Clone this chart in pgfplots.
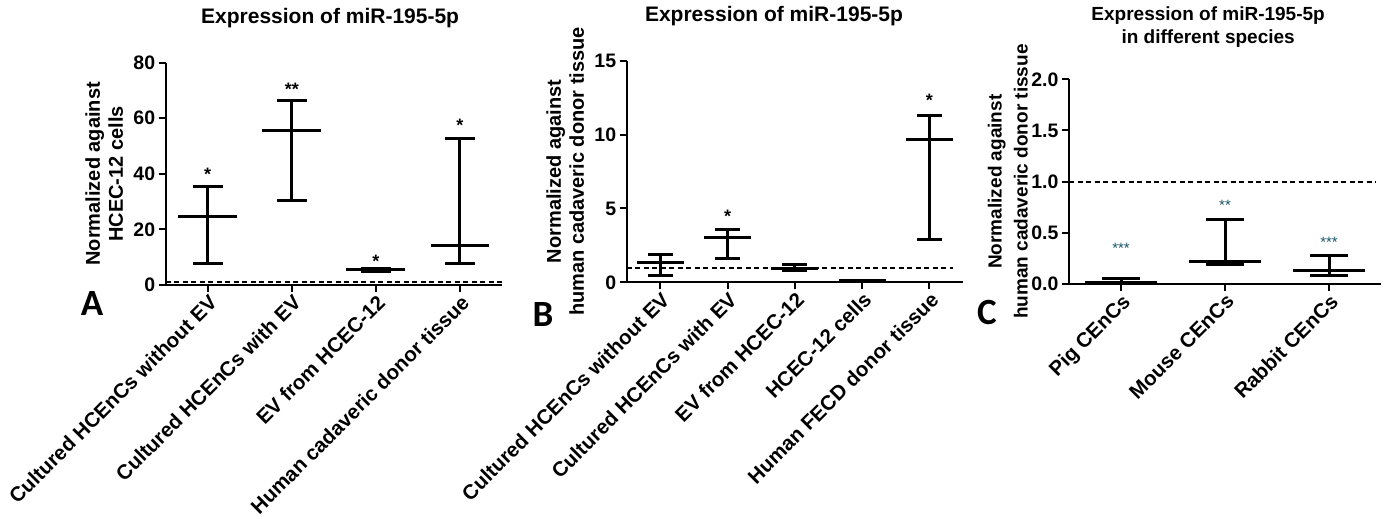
\documentclass[border=0pt]{standalone}
\usepackage{fontspec}
\setmainfont{Liberation Sans}
\newfontfamily\calibri{Carlito}
\usepackage{pgfplots}
\usepackage{pgfplotstable}
\pgfplotsset{compat=1.18}
\definecolor{starteal}{HTML}{1A5566}

% median, highest and lowest value of each group
\pgfplotstableread{
x med hi lo
0 24.6 35.4 7.9
1 55.6 66.5 30.5
2 5.4 6.0 4.8
3 14.1 52.8 7.7
}\dataA
\pgfplotstableread{
x med hi lo
0 1.35 1.90 0.47
1 3.00 3.59 1.62
2 0.95 1.22 0.79
3 0.09 0.11 0.06
4 9.68 11.32 2.91
}\dataB
\pgfplotstableread{
x med hi lo
0 0.015 0.055 0.007
1 0.218 0.635 0.190
2 0.130 0.274 0.083
}\dataC

\pgfplotsset{
  prism/.style={
    scale only axis, clip=false,
    axis x line*=bottom, axis y line*=left,
    axis line style={-, line width=2pt},
    tick align=outside, major tick length=7pt,
    every tick/.style={black, line width=2pt},
    tick label style={font=\fontsize{19.5}{22}\selectfont\bfseries},
    /pgf/number format/assume math mode=true,
    xticklabel style={rotate=45, anchor=north east, inner sep=1pt, font=\fontsize{20.5}{22}\selectfont\bfseries},
    ylabel style={anchor=center, align=center, font=\fontsize{20}{23}\selectfont\bfseries},
    title style={anchor=center, align=center, font=\fontsize{21}{24}\selectfont\bfseries},
  },
  ebar/.style 2 args={black, only marks, mark=-, mark size=#1,
    mark options={solid, line width=3pt},
    error bars/.cd, y dir=both, y explicit,
    error bar style={line width=3pt},
    error mark=|, error mark options={line width=3pt, mark size=#2}},
  stars/.style={draw=none, mark=none, nodes near coords, point meta=explicit symbolic,
    every node near coord/.style={anchor=center, yshift=-3pt, font=\fontsize{18}{18}\selectfont\bfseries}},
  ref/.style={black, line width=2pt, dash pattern=on 5pt off 3.5pt, no marks},
}

\begin{document}
\begin{tikzpicture}
\useasboundingbox (0pt,0pt) rectangle (1386pt,519pt);

% ---- A
\begin{axis}[prism, at={(165.7pt,234pt)}, anchor=south west,
  width=336.3pt, height=222.3pt,
  xmin=-0.5, xmax=3.5, ymin=0, ymax=80, ytick={0,20,...,80}, xtick={0,1,2,3},
  xticklabels={Cultured HCEnCs without EV, Cultured HCEnCs with EV, EV from HCEC-12, Human cadaveric donor tissue},
  title={Expression of miR-195-5p}, title style={at={(axis description cs:0.489,1)}, yshift=38.7pt},
  ylabel={Normalized against\\HCEC-12 cells}, ylabel style={at={(axis description cs:-0.183,0.5)}},
]
\addplot[ref] coordinates {(-0.5,1) (3.5,1)};
\addplot[ebar={29.4pt}{15pt}] table[x=x, y=med, y error plus expr=\thisrow{hi}-\thisrow{med}, y error minus expr=\thisrow{med}-\thisrow{lo}] {\dataA};
\addplot[stars] coordinates {(0,40.8)[*] (1,71.6)[**] (2,9.6)[*] (3,58.5)[*]};
\end{axis}

% ---- B
\begin{axis}[prism, at={(626.7pt,236.7pt)}, anchor=south west,
  width=336.3pt, height=221.6pt,
  xmin=-0.5, xmax=4.5, ymin=0, ymax=15, ytick={0,5,10,15}, xtick={0,1,2,3,4},
  xticklabels={Cultured HCEnCs without EV, Cultured HCEnCs with EV, EV from HCEC-12, HCEC-12 cells, Human FECD donor tissue},
  title={Expression of miR-195-5p}, title style={at={(axis description cs:0.438,1)}, yshift=38.7pt},
  ylabel={Normalized against\\human cadaveric donor tissue}, ylabel style={at={(axis description cs:-0.183,0.5)}},
]
\addplot[ref] coordinates {(-0.5,1) (4.35,1)};
\addplot[ebar={23.5pt}{12.5pt}] table[x=x, y=med, y error plus expr=\thisrow{hi}-\thisrow{med}, y error minus expr=\thisrow{med}-\thisrow{lo}] {\dataB};
\addplot[stars] coordinates {(1,4.67)[*] (4,12.5)[*]};
\end{axis}

% ---- C
\begin{axis}[prism, at={(1069pt,235pt)}, anchor=south west,
  width=312pt, height=204.7pt,
  xmin=-0.5, xmax=2.5, ymin=0, ymax=2, ytick={0,0.5,...,2}, xtick={0,1,2},
  yticklabel style={/pgf/number format/.cd, fixed, fixed zerofill, precision=1},
  xticklabels={Pig CEnCs, Mouse CEnCs, Rabbit CEnCs},
  title={Expression of miR-195-5p\\in different species},
  title style={at={(axis description cs:0.446,1)}, yshift=45.8pt, font=\fontsize{19}{23}\selectfont\bfseries},
  ylabel={Normalized against\\human cadaveric donor tissue},
  ylabel style={at={(axis description cs:-0.196,0.5)}, font=\fontsize{19}{26}\selectfont\bfseries},
]
\addplot[ref] coordinates {(-0.5,1) (2.45,1)};
\addplot[ebar={36pt}{18.7pt}] table[x=x, y=med, y error plus expr=\thisrow{hi}-\thisrow{med}, y error minus expr=\thisrow{med}-\thisrow{lo}] {\dataC};
\addplot[stars, every node near coord/.append style={text=starteal, font=\fontsize{15}{15}\selectfont}] coordinates {(0,0.38)[***] (1,0.80)[**] (2,0.44)[***]};
\end{axis}

\node[font=\fontsize{37}{37}\selectfont\bfseries\calibri] at (92pt,215pt) {A};
\node[font=\fontsize{37}{37}\selectfont\bfseries\calibri] at (543pt,204pt) {B};
\node[font=\fontsize{37}{37}\selectfont\bfseries\calibri] at (987pt,207pt) {C};
\end{tikzpicture}
\end{document}
